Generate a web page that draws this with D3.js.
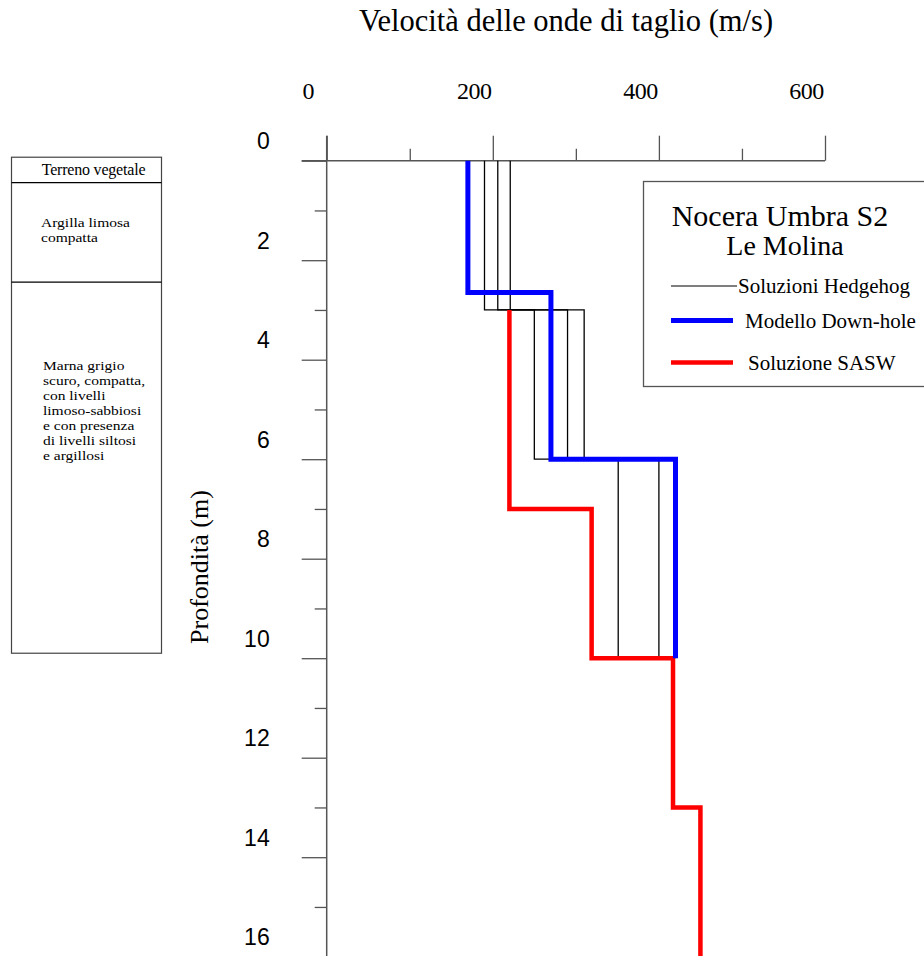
<!DOCTYPE html>
<html>
<head>
<meta charset="utf-8">
<script src="https://cdn.jsdelivr.net/npm/d3@7/dist/d3.min.js"></script>
<style>
  html, body { margin: 0; padding: 0; background: #fff; }
  svg { display: block; }
</style>
</head>
<body>
<svg id="chart" width="924" height="956"></svg>
<script>
// ---------------- DATA ----------------
const title = "Velocità delle onde di taglio (m/s)";
const yTitle = "Profondità (m)";
const xMajorTicks = [0, 200, 400, 600];
const xMinorTicks = [100, 300, 500];
const yMajorTicks = [0, 2, 4, 6, 8, 10, 12, 14, 16];
const yMinorTicks = [1, 3, 5, 7, 9, 11, 13, 15];

// Hedgehog solutions (layer depths in m, velocities in m/s)
const hedgehogDepths = [0, 3, 6, 10];
const hedgehogA = [190, 250, 351];
const hedgehogB = [206, 290, 400];
const hedgehogC = [221, 310, 420];

// Down-hole model
const downholeDepths = [0, 2.65, 6, 10];
const downholeVs = [170, 270, 420];

// SASW solution
const saswDepths = [3, 7, 10, 13, 16];
const saswVs = [220, 319, 417, 450];

// Lithological column
const litoDepths = [-0.07, 0.44, 2.44, 9.9];
const litoLabels = [
  ["Terreno vegetale"],
  ["Argilla limosa", "compatta"],
  ["Marna grigio", "scuro, compatta,", "con livelli", "limoso-sabbiosi", "e con presenza", "di livelli siltosi", "e argillosi"]
];

const legendTitle = ["Nocera Umbra S2", "Le Molina"];
const legendItems = ["Soluzioni Hedgehog", "Modello Down-hole", "Soluzione SASW"];
const legendColors = ["#555555", "#0000ff", "#ff0000"];

// ---------------- DRAW ----------------
const svg = d3.select("#chart");
const serif = "'Liberation Serif', 'Times New Roman', serif";
const sans = "'Liberation Sans', Arial, sans-serif";
const axisColor = "#555";

const x = d3.scaleLinear().domain([0, 600]).range([326.7, 825]);
const y = d3.scaleLinear().domain([0, 16]).range([160.7, 956.7]);

// Title
svg.append("text")
  .attr("x", 566).attr("y", 31)
  .attr("text-anchor", "middle")
  .attr("font-family", serif).attr("font-size", 30.5)
  .text(title);

// Y title
svg.append("text")
  .attr("transform", "translate(208,567) rotate(-90)")
  .attr("text-anchor", "middle")
  .attr("font-family", serif).attr("font-size", 26)
  .text(yTitle);

// X axis (top) major
const gxMaj = svg.append("g").attr("transform", `translate(0,${y(0)})`)
  .call(d3.axisTop(x).tickValues(xMajorTicks).tickSize(25).tickPadding(37).tickSizeOuter(0));
// X axis minor
const gxMin = svg.append("g").attr("transform", `translate(0,${y(0)})`)
  .call(d3.axisTop(x).tickValues(xMinorTicks).tickSize(12).tickFormat("").tickSizeOuter(0));

// Y axis major
const gyMaj = svg.append("g").attr("transform", `translate(${x(0)},0)`)
  .call(d3.axisLeft(y).tickValues(yMajorTicks).tickSize(25).tickPadding(32).tickSizeOuter(0));
const gyMin = svg.append("g").attr("transform", `translate(${x(0)},0)`)
  .call(d3.axisLeft(y).tickValues(yMinorTicks).tickSize(12).tickFormat("").tickSizeOuter(0));

[gxMaj, gxMin, gyMaj, gyMin].forEach(g => {
  g.select(".domain").remove();
  g.selectAll(".tick line").attr("stroke", axisColor).attr("stroke-width", 1.3);
});
gxMaj.selectAll(".tick text")
  .attr("font-family", serif).attr("font-size", 24).attr("fill", "#000")
  .attr("dx", -19).attr("letter-spacing", -0.5);
gyMaj.selectAll(".tick text")
  .attr("font-family", sans).attr("font-size", 23).attr("fill", "#000")
  .attr("dy", "0.35em").attr("y", -20);

// Axis lines
svg.append("line")
  .attr("x1", x(0) - 25).attr("x2", x(600))
  .attr("y1", y(0)).attr("y2", y(0))
  .attr("stroke", axisColor).attr("stroke-width", 1.5);
svg.append("line")
  .attr("x1", x(0)).attr("x2", x(0))
  .attr("y1", y(0) - 25).attr("y2", y(16))
  .attr("stroke", axisColor).attr("stroke-width", 1.5);

// Step line helper
function stepPoints(depths, vs) {
  const pts = [];
  vs.forEach((v, i) => {
    pts.push([v, depths[i]]);
    pts.push([v, depths[i + 1]]);
  });
  return pts;
}
const line = d3.line().x(d => x(d[0])).y(d => y(d[1]));

// Hedgehog
[hedgehogA, hedgehogB, hedgehogC].forEach(vs => {
  svg.append("path")
    .attr("d", line(stepPoints(hedgehogDepths, vs)))
    .attr("fill", "none").attr("stroke", "#000").attr("stroke-width", 1.3);
});

// SASW
svg.append("path")
  .attr("d", line(stepPoints(saswDepths, saswVs)))
  .attr("fill", "none").attr("stroke", "#ff0000").attr("stroke-width", 4.5);

// Down-hole
svg.append("path")
  .attr("d", line(stepPoints(downholeDepths, downholeVs)))
  .attr("fill", "none").attr("stroke", "#0000ff").attr("stroke-width", 5);

// Lithological column
const lx0 = 11.5, lx1 = 161.5;
svg.append("rect")
  .attr("x", lx0).attr("y", y(litoDepths[0]))
  .attr("width", lx1 - lx0).attr("height", y(litoDepths[3]) - y(litoDepths[0]))
  .attr("fill", "none").attr("stroke", "#444").attr("stroke-width", 1.2);
[1, 2].forEach(i => {
  svg.append("line")
    .attr("x1", lx0).attr("x2", lx1)
    .attr("y1", y(litoDepths[i])).attr("y2", y(litoDepths[i]))
    .attr("stroke", "#000").attr("stroke-width", 1.2);
});
// Labels
svg.append("text")
  .attr("x", 93.5).attr("y", (y(litoDepths[0]) + y(litoDepths[1])) / 2 + 5)
  .attr("text-anchor", "middle")
  .attr("font-family", serif).attr("font-size", 16).attr("letter-spacing", -0.2)
  .text(litoLabels[0][0]);

function block(lines, x0, y0, lh) {
  lines.forEach((s, i) => {
    svg.append("text")
      .attr("transform", `translate(${x0},${y0 + i * lh}) scale(1.15,1)`)
      .attr("font-family", serif).attr("font-size", 13.5)
      .text(s);
  });
}
block(litoLabels[1], 41, 226.5, 15.5);
block(litoLabels[2], 43, 369.5, 15);

// Legend
const lg = svg.append("g");
lg.append("rect")
  .attr("x", 643.5).attr("y", 181.5).attr("width", 300).attr("height", 205)
  .attr("fill", "#fff").attr("stroke", "#555").attr("stroke-width", 1.3);
lg.append("text").attr("x", 780).attr("y", 226).attr("text-anchor", "middle")
  .attr("font-family", serif).attr("font-size", 30).text(legendTitle[0]);
lg.append("text").attr("x", 785).attr("y", 255).attr("text-anchor", "middle")
  .attr("font-family", serif).attr("font-size", 28).text(legendTitle[1]);
const legY = [286, 320.5, 362.5];
const legW = [1.3, 5, 4.5];
const legTx = [738, 745, 748];
legendItems.forEach((t, i) => {
  lg.append("line")
    .attr("x1", 671).attr("x2", i === 0 ? 737 : 733)
    .attr("y1", legY[i]).attr("y2", legY[i])
    .attr("stroke", legendColors[i]).attr("stroke-width", legW[i]);
  lg.append("text")
    .attr("x", legTx[i]).attr("y", legY[i] + 7)
    .attr("font-family", serif).attr("font-size", 21).text(t);
});
</script>
</body>
</html>
